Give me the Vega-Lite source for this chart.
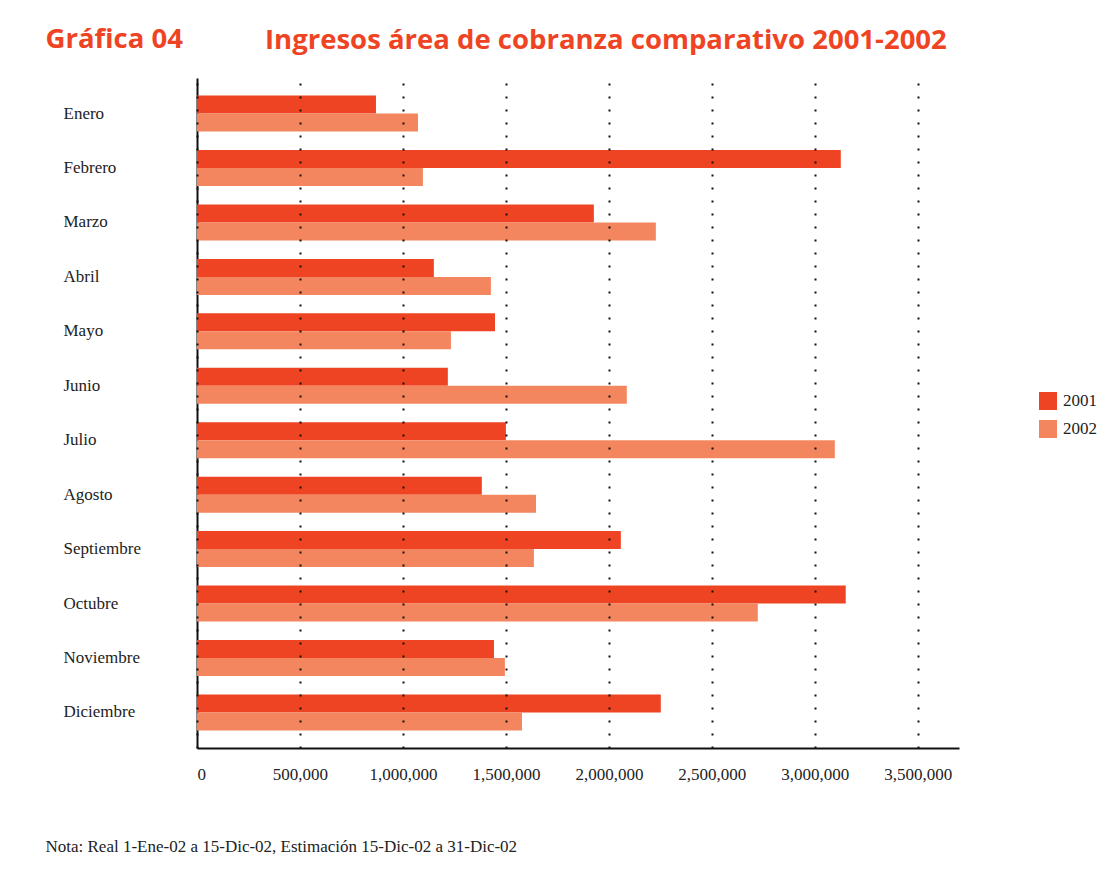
{
  "$schema": "https://vega.github.io/schema/vega-lite/v6.json",
  "autosize": {"type": "none"},
  "padding": {"left": 197, "top": 78, "right": 141, "bottom": 126},
  "width": 762,
  "height": 670,
  "background": "white",
  "title": {
    "text": "Ingresos área de cobranza comparativo 2001-2002",
    "anchor": "start",
    "frame": "group",
    "dx": 68,
    "offset": -29,
    "font": "Open Sans",
    "fontWeight": "bold",
    "fontSize": 27.5,
    "color": "#ef4423"
  },
  "config": {
    "view": {"stroke": null},
    "font": "Liberation Serif"
  },
  "data": {
    "values": [
      {"mes": "Enero", "anio": "2001", "valor": 869000},
      {"mes": "Enero", "anio": "2002", "valor": 1073000},
      {"mes": "Febrero", "anio": "2001", "valor": 3126000},
      {"mes": "Febrero", "anio": "2002", "valor": 1097000},
      {"mes": "Marzo", "anio": "2001", "valor": 1927000},
      {"mes": "Marzo", "anio": "2002", "valor": 2228000},
      {"mes": "Abril", "anio": "2001", "valor": 1150000},
      {"mes": "Abril", "anio": "2002", "valor": 1427000},
      {"mes": "Mayo", "anio": "2001", "valor": 1447000},
      {"mes": "Mayo", "anio": "2002", "valor": 1233000},
      {"mes": "Junio", "anio": "2001", "valor": 1218000},
      {"mes": "Junio", "anio": "2002", "valor": 2087000},
      {"mes": "Julio", "anio": "2001", "valor": 1500000},
      {"mes": "Julio", "anio": "2002", "valor": 3097000},
      {"mes": "Agosto", "anio": "2001", "valor": 1383000},
      {"mes": "Agosto", "anio": "2002", "valor": 1646000},
      {"mes": "Septiembre", "anio": "2001", "valor": 2058000},
      {"mes": "Septiembre", "anio": "2002", "valor": 1636000},
      {"mes": "Octubre", "anio": "2001", "valor": 3150000},
      {"mes": "Octubre", "anio": "2002", "valor": 2723000},
      {"mes": "Noviembre", "anio": "2001", "valor": 1442000},
      {"mes": "Noviembre", "anio": "2002", "valor": 1495000},
      {"mes": "Diciembre", "anio": "2001", "valor": 2252000},
      {"mes": "Diciembre", "anio": "2002", "valor": 1578000}
    ]
  },
  "mark": {"type": "bar"},
  "encoding": {
    "y": {
      "field": "mes",
      "type": "nominal",
      "sort": ["Enero", "Febrero", "Marzo", "Abril", "Mayo", "Junio", "Julio", "Agosto", "Septiembre", "Octubre", "Noviembre", "Diciembre"],
      "scale": {"paddingInner": 0.338, "paddingOuter": 0.323},
      "axis": {
        "title": "Gráfica 04",
        "titleX": -152,
        "titleY": -31,
        "titleAngle": 0,
        "titleAlign": "left",
        "titleBaseline": "alphabetic",
        "titleFont": "Open Sans",
        "titleFontWeight": "bold",
        "titleFontSize": 27.5,
        "titleColor": "#ef4423",
        "labelAlign": "left",
        "labelPadding": 134,
        "ticks": false,
        "tickSize": 0,
        "labelFont": "Liberation Serif",
        "labelFontSize": 17,
        "labelColor": "#222",
        "domainColor": "#111",
        "domainWidth": 2,
        "grid": false
      }
    },
    "yOffset": {"field": "anio", "type": "nominal", "sort": ["2001", "2002"], "scale": {"paddingInner": 0}},
    "x": {
      "field": "valor",
      "type": "quantitative",
      "scale": {"domain": [0, 3700000], "nice": false},
      "axis": {
        "values": [0, 500000, 1000000, 1500000, 2000000, 2500000, 3000000, 3500000],
        "format": ",d",
        "title": "Nota: Real 1-Ene-02 a 15-Dic-02, Estimación 15-Dic-02 a 31-Dic-02",
        "titleX": -152,
        "titleY": 103,
        "titleAlign": "left",
        "titleBaseline": "alphabetic",
        "titleFont": "Liberation Serif",
        "titleFontWeight": "normal",
        "titleFontSize": 17,
        "titleColor": "#222",
        "ticks": false,
        "tickSize": 0,
        "labelPadding": 18,
        "labelBaseline": "top",
        "labelFont": "Liberation Serif",
        "labelFontSize": 17,
        "labelColor": "#222",
        "domainColor": "#111",
        "domainWidth": 2,
        "grid": true,
        "gridColor": "#111",
        "gridDash": [2, 11],
        "gridWidth": 2,
        "zindex": 1
      }
    },
    "color": {
      "field": "anio",
      "type": "nominal",
      "scale": {"domain": ["2001", "2002"], "range": ["#ef4423", "#f4865f"]},
      "legend": {
        "title": null,
        "orient": "none",
        "legendX": 842,
        "legendY": 314,
        "symbolType": "square",
        "symbolSize": 324,
        "symbolStrokeWidth": 0,
        "symbolOpacity": 1,
        "rowPadding": 10,
        "labelOffset": 6,
        "labelFont": "Liberation Serif",
        "labelFontSize": 17,
        "labelColor": "#222",
        "padding": 0
      }
    }
  }
}
